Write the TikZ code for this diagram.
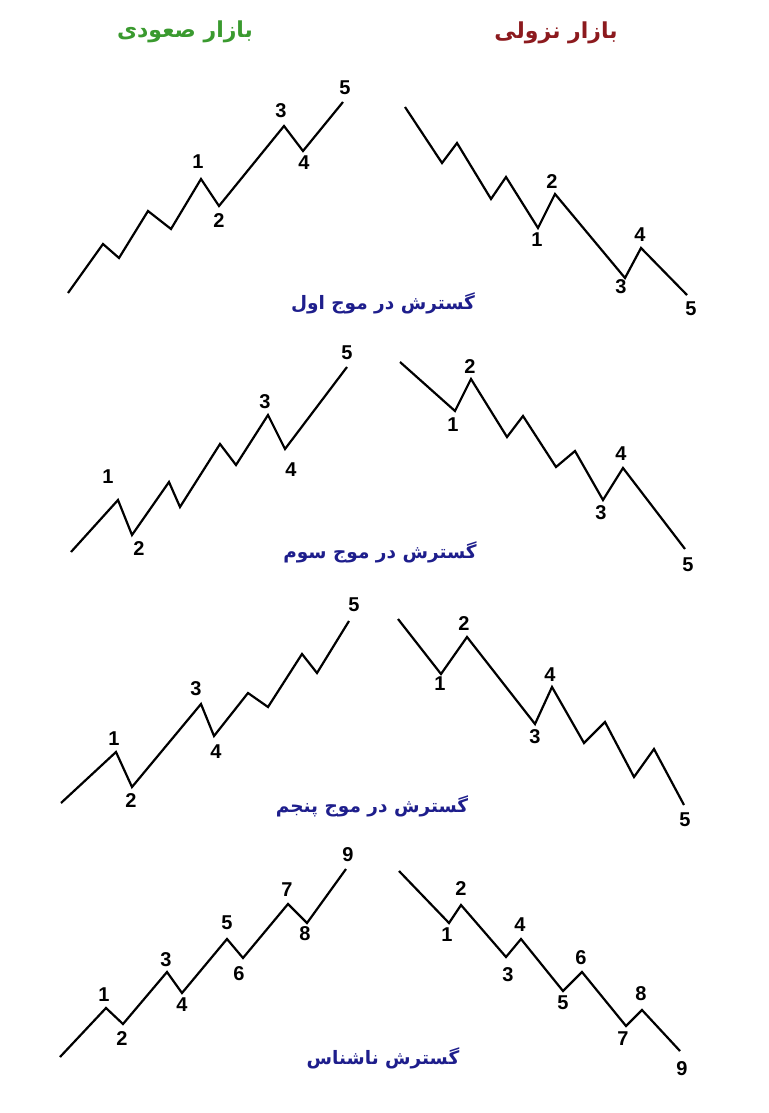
\documentclass[tikz,border=0pt]{standalone}
\usepackage{fontspec}
\setmainfont{Liberation Sans}
\newfontfamily\arabicfont[Script=Arabic]{DejaVu Sans}
\TeXXeTstate=1
\usepackage{tikz}
\usetikzlibrary{positioning}
\definecolor{bullgreen}{RGB}{58,154,47}
\definecolor{bearred}{RGB}{140,26,30}
\definecolor{capblue}{RGB}{30,30,140}
\begin{document}
\begin{tikzpicture}[x=1pt, y=-1pt, wave/.style={line width=2.2pt, line join=miter},
  num/.style={font=\fontsize{20}{20}\selectfont\bfseries, inner sep=0pt},
  title/.style={font=\arabicfont\fontsize{22}{22}\selectfont\bfseries, inner sep=0pt},
  caption/.style={font=\arabicfont\fontsize{18.5}{18.5}\selectfont\bfseries, text=capblue, inner sep=0pt}]
\useasboundingbox (0,0) rectangle (768,1113);
% titles
\node[title, text=bullgreen] (bull) at (185,32) {\beginR بازار صعودی\endR};
\node[title, text=bearred] (bear) at (556,33) {\beginR بازار نزولی\endR};
% wave points
\foreach \x/\y [count=\i] in {68/293,103/244,119/258,148/211,171/229,201/179,219/206,284/126,303/151,343/102}
  \coordinate (ua\i) at (\x,\y);
\foreach \x/\y [count=\i] in {405/107,442/163,457/143,491/199,506/177,538/228,555/194,625/278,641/248,687/295}
  \coordinate (da\i) at (\x,\y);
\foreach \x/\y [count=\i] in {71/552,118/500,132/535,169/482,180/507,220/444,236/465,268/415,285/449,347/367}
  \coordinate (ub\i) at (\x,\y);
\foreach \x/\y [count=\i] in {400/362,455/411,471/379,507/437,523/416,556/467,575/451,603/500,623/468,685/549}
  \coordinate (db\i) at (\x,\y);
\foreach \x/\y [count=\i] in {61/803,116/752,132/787,201/704,214/736,248/693,268/707,302/654,317/673,349/621}
  \coordinate (uc\i) at (\x,\y);
\foreach \x/\y [count=\i] in {398/619,441/674,467/637,535/724,552/687,584/743,605/722,634/777,654/749,684/805}
  \coordinate (dc\i) at (\x,\y);
\foreach \x/\y [count=\i] in {60/1057,106/1008,123/1024,167/972,182/993,227/939,243/958,288/904,307/923,346/869}
  \coordinate (ud\i) at (\x,\y);
\foreach \x/\y [count=\i] in {399/871,449/923,461/905,506/957,521/939,563/991,582/972,626/1026,642/1010,680/1051}
  \coordinate (dd\i) at (\x,\y);
% waves
\foreach \w in {ua,da,ub,db,uc,dc,ud,dd}
  \draw[wave] (\w1) \foreach \i in {2,...,10} {-- (\w\i)};
% labels, first row
\node[num] (ua-1) at (198,162) {1};
\node[num] (ua-2) at (219,221) {2};
\node[num] (ua-3) at (281,111) {3};
\node[num] (ua-4) at (304,163) {4};
\node[num] (ua-5) at (345,88) {5};
\node[num] (da-1) at (537,240) {1};
\node[num] (da-2) at (552,182) {2};
\node[num] (da-3) at (621,287) {3};
\node[num] (da-4) at (640,235) {4};
\node[num] (da-5) at (691,309) {5};
% second row
\node[num] (ub-1) at (108,477) {1};
\node[num] (ub-2) at (139,549) {2};
\node[num] (ub-3) at (265,402) {3};
\node[num] (ub-4) at (291,470) {4};
\node[num] (ub-5) at (347,353) {5};
\node[num] (db-1) at (453,425) {1};
\node[num] (db-2) at (470,367) {2};
\node[num] (db-3) at (601,513) {3};
\node[num] (db-4) at (621,454) {4};
\node[num] (db-5) at (688,565) {5};
% third row
\node[num] (uc-1) at (114,739) {1};
\node[num] (uc-2) at (131,801) {2};
\node[num] (uc-3) at (196,689) {3};
\node[num] (uc-4) at (216,752) {4};
\node[num] (uc-5) at (354,605) {5};
\node[num] (dc-1) at (440,684) {1};
\node[num] (dc-2) at (464,624) {2};
\node[num] (dc-3) at (535,737) {3};
\node[num] (dc-4) at (550,675) {4};
\node[num] (dc-5) at (685,820) {5};
% fourth row
\node[num] (ud-1) at (104,995) {1};
\node[num] (ud-2) at (122,1039) {2};
\node[num] (ud-3) at (166,960) {3};
\node[num] (ud-4) at (182,1005) {4};
\node[num] (ud-5) at (227,923) {5};
\node[num] (ud-6) at (239,974) {6};
\node[num] (ud-7) at (287,890) {7};
\node[num] (ud-8) at (305,934) {8};
\node[num] (ud-9) at (348,855) {9};
\node[num] (dd-1) at (447,935) {1};
\node[num] (dd-2) at (461,889) {2};
\node[num] (dd-3) at (508,975) {3};
\node[num] (dd-4) at (520,925) {4};
\node[num] (dd-5) at (563,1003) {5};
\node[num] (dd-6) at (581,958) {6};
\node[num] (dd-7) at (623,1039) {7};
\node[num] (dd-8) at (641,994) {8};
\node[num] (dd-9) at (682,1069) {9};
% captions
\node[caption] (capa) at (383,303) {\beginR گسترش در موج اول\endR};
\node[caption] (capb) at (380,552) {\beginR گسترش در موج سوم\endR};
\node[caption] (capc) at (372,806) {\beginR گسترش در موج پنجم\endR};
\node[caption] (capd) at (383,1058) {\beginR گسترش ناشناس\endR};
\end{tikzpicture}
\end{document}
